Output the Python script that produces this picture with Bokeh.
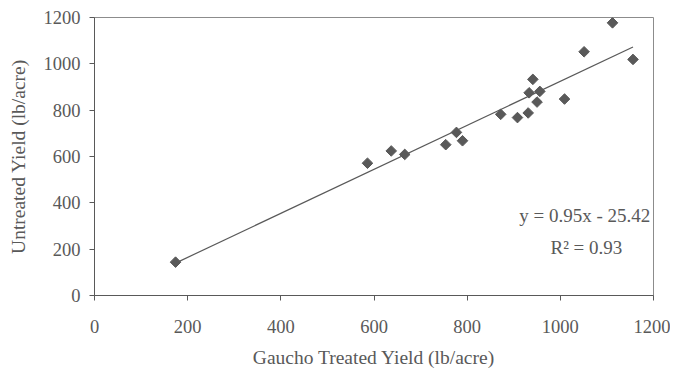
import math
from bokeh.plotting import figure
from bokeh.models import Range1d, FixedTicker, Label, ColumnDataSource
from bokeh.embed import file_html
from bokeh.resources import INLINE

# Data
treated = [174, 586, 637, 666, 754, 777, 790, 872, 908, 931, 933, 941, 950, 956, 1009, 1051, 1112, 1156]
untreated = [144, 571, 624, 609, 651, 704, 668, 782, 768, 788, 875, 933, 835, 881, 848, 1052, 1177, 1019]
slope = 0.95
intercept = -25.42
x_ticks = [0, 200, 400, 600, 800, 1000, 1200]
y_ticks = [0, 200, 400, 600, 800, 1000, 1200]
eq_text = "y = 0.95x - 25.42"
r2_text = "R\u00b2 = 0.93"

FONT = "Liberation Serif"
TXT = "#595959"

p = figure(width=670, height=370, output_backend="svg", toolbar_location=None,
           x_range=Range1d(0, 1200), y_range=Range1d(0, 1200))
p.min_border_left = 94
p.min_border_right = 17
p.min_border_top = 17
p.min_border_bottom = 74
p.xgrid.visible = False
p.ygrid.visible = False
p.outline_line_color = "#8c8c8c"
p.background_fill_color = "white"

for ax in (p.xaxis, p.yaxis):
    ax.axis_line_color = "#595959"
    ax.major_tick_line_color = "#595959"
    ax.minor_tick_line_color = None
    ax.major_tick_out = 5
    ax.major_tick_in = 0
    ax.major_label_text_font = FONT
    ax.major_label_text_font_size = "18.5px"
    ax.major_label_text_color = TXT
    ax.axis_label_text_font = FONT
    ax.axis_label_text_font_size = "19.5px"
    ax.axis_label_text_color = TXT
    ax.axis_label_text_font_style = "normal"

p.xaxis.ticker = FixedTicker(ticks=x_ticks)
p.yaxis.ticker = FixedTicker(ticks=y_ticks)
p.xaxis.axis_label = "Gaucho Treated Yield (lb/acre)"
p.yaxis.axis_label = "Untreated Yield (lb/acre)"
p.xaxis.major_label_standoff = 19
p.xaxis.axis_label_standoff = 11
p.yaxis.major_label_standoff = 9
p.yaxis.axis_label_standoff = 12

# trend line
xmin, xmax = min(treated), max(treated)
p.line([xmin, xmax], [slope * xmin + intercept, slope * xmax + intercept],
       line_color="#595959", line_width=1.2)

src = ColumnDataSource(dict(x=treated, y=untreated))
p.scatter("x", "y", source=src, marker="square", angle=math.pi / 4, size=7.5,
          fill_color="#595959", line_color="#595959")

p.add_layout(Label(x=1193, y=345, text=eq_text, text_align="right", text_baseline="middle",
                   text_font=FONT, text_font_size="19px", text_color=TXT))
p.add_layout(Label(x=1056, y=207, text=r2_text, text_align="center", text_baseline="middle",
                   text_font=FONT, text_font_size="19px", text_color=TXT))

open("out.html", "w").write(file_html(p, INLINE))
